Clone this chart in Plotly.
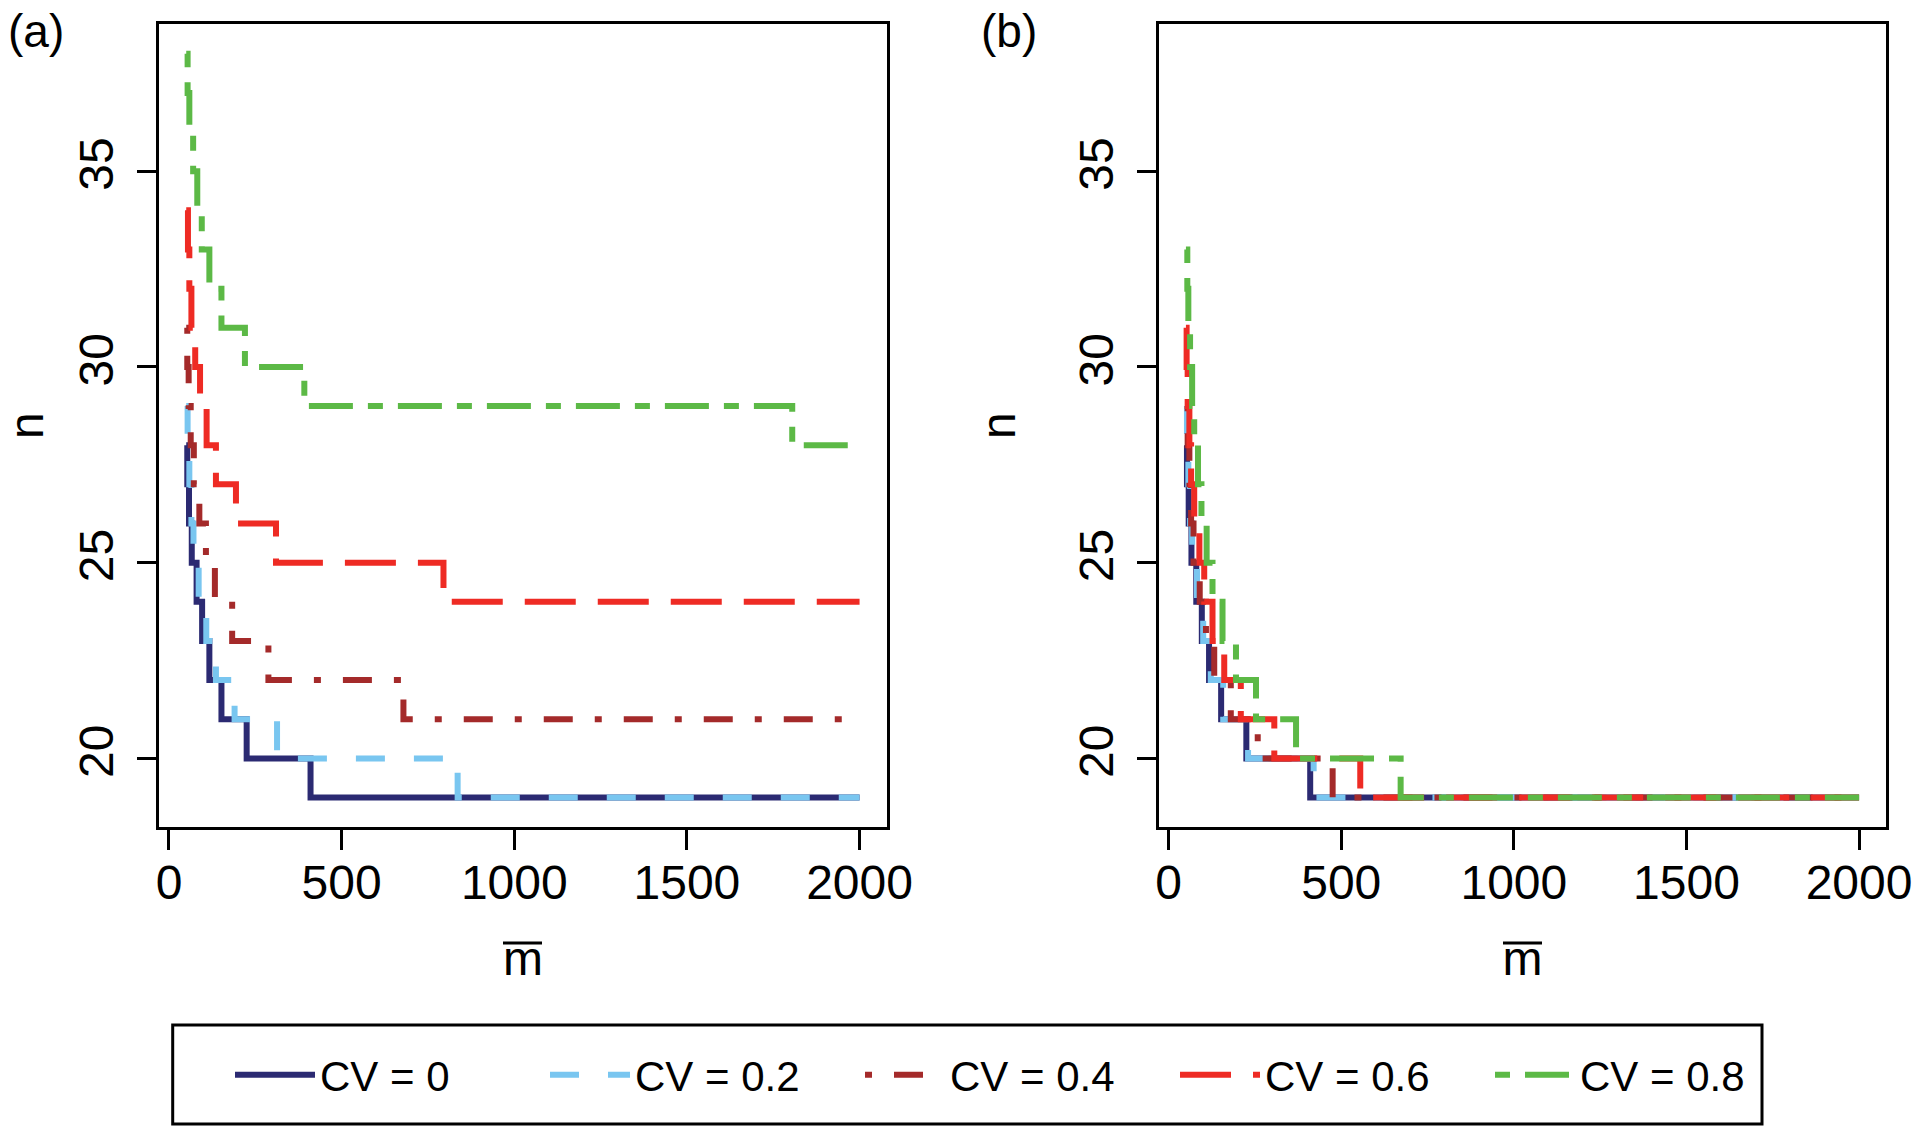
import plotly.graph_objects as go

# ---------------- data ----------------
series_names = ["CV = 0", "CV = 0.2", "CV = 0.4", "CV = 0.6", "CV = 0.8"]
series_colors = ["#2B2A72", "#79C6F0", "#A42A2A", "#EE2B24", "#5CB946"]
series_dash = ["solid", "29px,29px", "7px,22px,29px,22px", "51px,22px", "15px,15px,44px,15px"]

x_ticks = [0, 500, 1000, 1500, 2000]
y_ticks = [20, 25, 30, 35]

# panel (a): step functions, m-bar where n changes, and the n values
a_m_cv0 = [50, 53, 58, 66, 80, 96, 117, 152, 225, 410, 2000]
a_n_cv0 = [28, 27, 26, 25, 24, 23, 22, 21, 20, 19, 19]
a_m_cv02 = [50, 54, 59, 65, 71, 86, 108, 136, 190, 313, 836, 2000]
a_n_cv02 = [29, 28, 27, 26, 25, 24, 23, 22, 21, 20, 19, 19]
a_m_cv04 = [50, 53, 57, 63, 72, 88, 107, 133, 183, 288, 679, 2000]
a_n_cv04 = [31, 30, 29, 28, 27, 26, 25, 24, 23, 22, 21, 21]
a_m_cv06 = [50, 55, 59, 65, 76, 90, 109, 136, 194, 310, 795, 2000]
a_n_cv06 = [34, 33, 32, 31, 30, 29, 28, 27, 26, 25, 24, 24]
a_m_cv08 = [50, 54, 59, 70, 82, 95, 117, 152, 220, 392, 1805, 2000]
a_n_cv08 = [38, 37, 36, 35, 34, 33, 32, 31, 30, 29, 28, 28]

# panel (b)
b_m_cv0 = [50, 53, 58, 66, 80, 96, 117, 152, 225, 410, 2000]
b_n_cv0 = [28, 27, 26, 25, 24, 23, 22, 21, 20, 19, 19]
b_m_cv02 = [50, 53, 57, 62, 68, 82, 100, 122, 158, 230, 420, 2000]
b_n_cv02 = [29, 28, 27, 26, 25, 24, 23, 22, 21, 20, 19, 19]
b_m_cv04 = [50, 55, 60, 65, 72, 90, 108, 132, 180, 258, 475, 2000]
b_n_cv04 = [29, 28, 27, 26, 25, 24, 23, 22, 21, 20, 19, 19]
b_m_cv06 = [50, 52, 55, 60, 65, 74, 89, 103, 127, 161, 209, 306, 555, 2000]
b_n_cv06 = [31, 30, 29, 28, 27, 26, 25, 24, 23, 22, 21, 20, 19, 19]
b_m_cv08 = [50, 54, 57, 62, 68, 74, 85, 95, 110, 127, 156, 195, 253, 369, 672, 2000]
b_n_cv08 = [33, 32, 31, 30, 29, 28, 27, 26, 25, 24, 23, 22, 21, 20, 19, 19]

panel_a = [(a_m_cv0, a_n_cv0), (a_m_cv02, a_n_cv02), (a_m_cv04, a_n_cv04),
           (a_m_cv06, a_n_cv06), (a_m_cv08, a_n_cv08)]
panel_b = [(b_m_cv0, b_n_cv0), (b_m_cv02, b_n_cv02), (b_m_cv04, b_n_cv04),
           (b_m_cv06, b_n_cv06), (b_m_cv08, b_n_cv08)]

# ---------------- figure ----------------
W, H = 1920, 1135
FONT = "Liberation Sans, Arial, Helvetica, sans-serif"
LW = 6

fig = go.Figure()
for panel, xa, ya, show in [(panel_a, "x", "y", True), (panel_b, "x2", "y2", False)]:
    for i, (m, n) in enumerate(panel):
        fig.add_trace(go.Scatter(
            x=m, y=n, mode="lines", line_shape="hv",
            line=dict(color=series_colors[i], width=LW, dash=series_dash[i]),
            name=series_names[i], showlegend=show, xaxis=xa, yaxis=ya,
            hoverinfo="skip"))

def px(v):
    return v / W

def py(v):
    return (H - v) / H

axis_common = dict(showline=True, linecolor="black", linewidth=3, mirror=True,
                   showgrid=False, zeroline=False, ticks="outside",
                   tickcolor="black", tickwidth=3, automargin=False,
                   tickfont=dict(family=FONT, size=48, color="black"))

xdom_a = [px(159.3), px(886.5)]
xdom_b = [px(1159), px(1886)]
ydom = [py(827.3), py(24)]

xaxis_style = dict(axis_common, range=[-28, 2078], tickvals=x_ticks,
                   ticktext=[str(t) for t in x_ticks], ticklen=20,
                   ticklabelstandoff=-9,
                   title=dict(text="m", font=dict(family=FONT, size=48, color="black"),
                              standoff=34))
yaxis_style = dict(axis_common, range=[18.24, 38.76], tickvals=y_ticks,
                   ticktext=[str(t) for t in y_ticks], ticklen=19, tickangle=-90,
                   ticklabelstandoff=5,
                   title=dict(text="n", font=dict(family=FONT, size=48, color="black"),
                              standoff=39))

fig.update_layout(
    width=W, height=H, autosize=False,
    margin=dict(l=0, r=0, t=0, b=0, pad=0, autoexpand=False),
    paper_bgcolor="white", plot_bgcolor="white",
    font=dict(family=FONT, color="black"),
    xaxis=dict(xaxis_style, domain=xdom_a, anchor="y"),
    yaxis=dict(yaxis_style, domain=ydom, anchor="x"),
    xaxis2=dict(xaxis_style, domain=xdom_b, anchor="y2"),
    yaxis2=dict(yaxis_style, domain=ydom, anchor="x2"),
    showlegend=True,
    legend=dict(orientation="h", x=px(230), xanchor="left", y=py(1075), yanchor="middle",
                font=dict(family=FONT, size=42, color="black"),
                itemwidth=80, entrywidth=220, entrywidthmode="pixels",
                bgcolor="rgba(0,0,0,0)", borderwidth=0, traceorder="normal"),
    shapes=[
        # legend frame
        dict(type="rect", xref="paper", yref="paper", x0=px(172.7), x1=px(1762),
             y0=py(1124), y1=py(1025), line=dict(color="black", width=3)),
        # overlines for m-bar
        dict(type="line", xref="paper", yref="paper", x0=px(503), x1=px(542),
             y0=py(943), y1=py(943), line=dict(color="black", width=3)),
        dict(type="line", xref="paper", yref="paper", x0=px(1503), x1=px(1542),
             y0=py(943), y1=py(943), line=dict(color="black", width=3)),
    ],
    annotations=[
        dict(text="(a)", xref="paper", yref="paper", x=px(6), y=py(31),
             xanchor="left", yanchor="middle", showarrow=False,
             font=dict(family=FONT, size=46, color="black")),
        dict(text="(b)", xref="paper", yref="paper", x=px(979), y=py(31),
             xanchor="left", yanchor="middle", showarrow=False,
             font=dict(family=FONT, size=46, color="black")),
    ],
)

fig.write_html("out.html",
               config={"displayModeBar": False, "responsive": False},
               post_script="document.body.style.margin='0';document.body.style.overflow='hidden';")
